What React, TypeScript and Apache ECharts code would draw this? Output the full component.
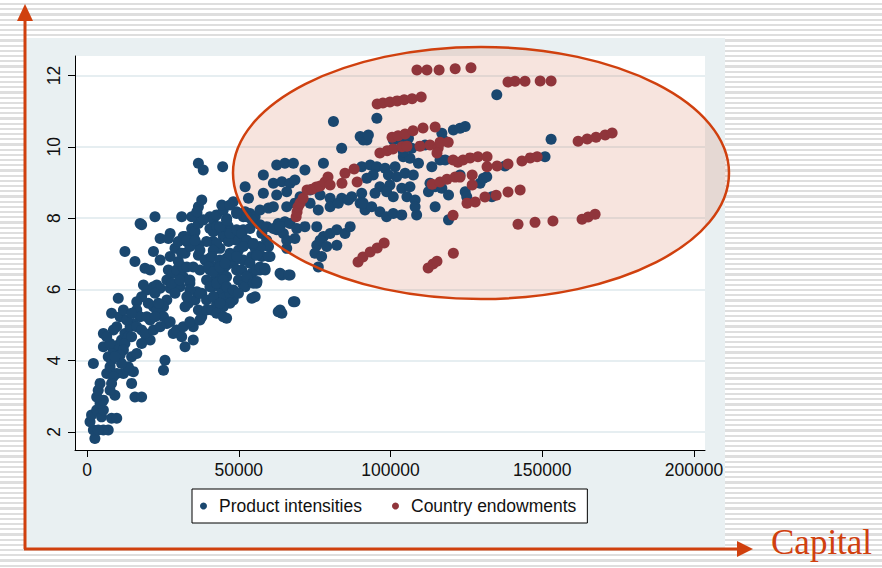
import React, { useEffect, useRef } from 'react';
import * as echarts from 'echarts';

const xTickValues = [0, 50000, 100000, 150000, 200000];
const yTickValues = [2, 4, 6, 8, 10, 12];
const legendLabels = ['Product intensities', 'Country endowments'];
const axisTitle = 'Capital';

const productIntensities: number[][] = [
  [2600,1.81],[2100,2.05],[1000,2.28],[1500,2.47],[3200,2.61],[4800,2.42],[5400,2.61],[4300,2.80],[5400,2.89],[3200,2.98],
  [3700,3.17],[4300,3.36],[6500,3.64],[7600,3.83],[8100,4.01],[7000,4.11],[8700,4.30],[10300,4.44],[11400,4.58],[12500,4.76],
  [13600,4.67],[9800,4.95],[8700,4.86],[8100,5.33],[5400,4.39],[5400,4.76],[2100,3.92],[10300,5.75],[12500,7.06],[15800,6.78],
  [17500,7.85],[18000,7.81],[22400,8.04],[21900,7.06],[24100,6.82],[24100,7.43],[27400,7.57],[26800,7.43],[19100,6.59],[20800,6.54],
  [19700,5.98],[21900,6.07],[23000,6.12],[24100,6.03],[26800,6.54],[28400,6.45],[29500,6.54],[31700,6.35],[30600,6.07],[27400,6.03],
  [29000,5.89],[26300,5.70],[25200,5.51],[21900,5.51],[23000,5.42],[20200,5.61],[18000,5.79],[16400,5.65],[16400,5.42],[17500,5.23],
  [15300,5.04],[14200,4.95],[16400,4.95],[18000,4.86],[19700,4.67],[20800,4.58],[18000,4.48],[19100,4.76],[21900,4.86],[24100,4.95],
  [25200,5.23],[26300,5.04],[27400,5.09],[28400,4.76],[29500,4.86],[31200,4.67],[32300,4.39],[35000,4.58],[31700,4.95],[35000,4.95],
  [33900,5.09],[33400,5.61],[35600,5.70],[36200,5.93],[37800,5.89],[36700,5.42],[37200,5.14],[37800,5.23],[39400,5.42],[41100,5.42],
  [42700,5.61],[43300,5.79],[41600,6.07],[42200,6.26],[43800,6.35],[44400,5.98],[44900,5.75],[46000,5.19],[48200,5.70],[47100,5.89],
  [44900,6.54],[46000,6.68],[48200,6.73],[49300,6.54],[49900,6.26],[51500,6.12],[51000,6.54],[47700,6.92],[46000,6.87],[47100,7.01],
  [43800,7.15],[41600,7.34],[39400,7.34],[40500,6.87],[40500,6.54],[39400,6.26],[37200,6.54],[36700,6.96],[36700,7.24],[35000,7.48],
  [34500,7.71],[31200,8.04],[36200,8.13],[36700,8.32],[37800,8.51],[40500,8.04],[41600,7.95],[42700,8.09],[44900,8.23],[44400,8.37],
  [46000,7.99],[46600,7.76],[47100,7.62],[48800,7.53],[49300,7.38],[51500,7.67],[52100,7.38],[53700,7.29],[54300,6.92],[55400,7.15],
  [57000,7.20],[57600,6.92],[55900,6.54],[54300,6.45],[57000,6.54],[58700,6.54],[55900,6.17],[54300,5.75],[52100,6.07],[60300,6.92],
  [63600,5.42],[64200,5.33],[66900,6.40],[64200,6.40],[68000,5.65],[48200,8.46],[49300,8.18],[53700,8.13],[55400,8.04],[25200,3.73],
  [25700,4.01],[15800,2.98],[18000,2.98],[14700,3.36],[15300,3.69],[14200,3.73],[12000,3.64],[9800,3.64],[8700,3.55],[9200,3.03],
  [7600,3.17],[8100,3.36],[8100,2.38],[9800,2.38],[7000,2.05],[5400,2.05],[3700,2.05],
  [10900,5.23],[12000,5.42],[13100,5.14],[14700,5.33],[12500,4.48],[12000,4.30],[10900,4.15],[14700,4.11],[16400,4.20],[13600,3.83],
  [11400,3.92],[9200,4.11],[7600,4.48],[6500,4.67],[14700,4.67],[20800,5.14],[19700,5.23],[22400,5.23],[23500,5.61],[18600,6.12],
  [22400,5.89],[26300,6.26],[27900,6.17],[30600,6.26],[33900,6.17],[31700,6.63],[30100,6.78],[27400,6.92],[32300,7.01],[29000,7.15],
  [30100,7.34],[32900,7.34],[31700,7.48],[35600,7.62],[36700,7.85],[34500,8.04],[38300,7.95],[40500,7.71],[41600,7.62],[42700,7.76],
  [44400,7.62],[44900,7.48],[46600,7.34],[49900,7.10],[49900,6.87],[51500,6.82],[53700,6.73],[43800,6.78],[42200,6.63],[44400,6.17],
  [46000,6.35],[47100,5.61],[44900,5.51],[42700,5.33],[44900,5.23],
  [36700,9.54],[38300,9.35],[44700,9.44],[36200,8.18],[43800,7.76],[46000,7.94],[51500,8.04],[52100,8.18],[54300,7.95],[47100,7.57],
  [49300,7.67],[51000,7.57],[53700,7.71],[57000,7.81],[57600,7.57],[59200,7.38],[59800,7.20],[57000,7.15],[55900,6.96],[52600,7.38],
  [51500,7.20],[54800,7.29],[32300,7.48],[33900,7.20],[32900,7.38],[31200,7.01],[35600,7.38],[37200,7.10],[42700,7.29],[41600,7.10],
  [38900,6.82],[41100,6.92],[43800,6.82],[47100,6.96],[49300,6.92],[32900,6.63],[35000,6.63],[33900,6.26],[40000,6.63],[41600,6.49],
  [43800,6.63],[45500,6.73],[40500,6.07],[42700,6.17],[44900,6.26],[46000,6.07],[48200,5.98],[49900,5.89],[37200,5.89],[39400,5.70],
  [41600,5.79],[43800,5.61],[33900,5.98],[32900,5.79],[32300,5.51],[52600,6.35],[55900,6.54],[57000,6.63],[58600,6.59],[59800,6.92],
  [54800,6.17],[56000,6.22],[55400,5.79],[68500,5.65],[63000,5.37],
  [62500,9.49],[65200,9.54],[68000,9.54],[58100,9.21],[61400,8.98],[64200,9.02],[66900,8.98],[68500,9.07],[52100,8.88],[53200,8.56],
  [58100,8.70],[62500,8.65],[65800,8.74],[57000,8.23],[59800,8.28],[61400,8.32],[65800,8.32],[68500,8.42],[59200,7.76],[63000,7.85],
  [65200,7.90],[62500,7.67],[64700,7.57],[68500,7.43],[65800,7.15],
  [81200,10.71],[83900,9.96],[91000,10.19],[77900,9.54],[71800,9.35],[70200,8.60],[73500,8.79],[76800,8.65],[80100,8.56],[83900,8.56],
  [87200,8.60],[90500,8.70],[73500,8.42],[76200,8.23],[80100,8.32],[82800,8.42],[86100,8.51],[90000,8.42],[91600,8.23],[49300,8.13],
  [52600,8.04],[47100,8.37],[61400,7.71],[63600,7.76],[66900,7.85],[69100,7.71],[71800,7.76],[75700,7.76],[77900,7.48],[80100,7.57],
  [82300,7.67],[85000,7.57],[86700,7.76],[65800,7.38],[75700,7.24],[76800,7.38],[79000,7.20],[82300,7.24],[75100,7.01],[77300,6.92],
  [76200,6.63],[63600,6.45],[66400,6.40],
  [95500,10.80],[135000,11.46],[90000,10.29],[92200,10.19],[92700,10.33],[120700,10.47],[122900,10.52],[124600,10.57],[116900,10.38],[100900,10.19],
  [103700,10.10],[105900,10.24],[107000,9.96],[111400,10.05],[90500,9.44],[93300,9.49],[95500,9.44],[98200,9.40],[94300,9.21],[92200,9.12],
  [101500,9.44],[104200,9.72],[106400,9.68],[109200,9.54],[99300,9.21],[102000,9.16],[104800,9.26],[107500,9.21],[96500,8.88],[99800,8.93],
  [103700,8.84],[106400,8.88],[94900,8.70],[98700,8.74],[100900,8.60],[105400,8.60],[108100,8.51],[91000,8.42],[93800,8.32],[96500,8.18],
  [98700,8.04],[100900,8.13],[103700,8.09],[108600,8.09],[113600,9.44],[116300,9.63],[118000,9.63],[113000,8.98],[112500,8.74],[114700,8.88],
  [116900,8.84],[119100,8.65],[114700,8.32],[122900,9.21],[129500,8.98],[130600,9.12],[131700,9.16],[124600,8.74],[125100,8.60],[119100,7.95],
  [133400,8.60],[108100,8.32],[152900,10.21],[150900,9.72],[137700,9.46],[104200,9.86],[117400,10.19]
];

const countryEndowments: number[][] = [
  [108700,12.16],[112000,12.16],[116000,12.16],[121300,12.19],[126500,12.22],
  [138700,11.82],[141000,11.84],[144300,11.84],[149300,11.85],[152900,11.85],
  [95600,11.20],[97500,11.23],[99800,11.26],[102200,11.29],[104500,11.32],[107100,11.35],[110100,11.40],
  [100500,10.27],[102500,10.31],[104800,10.36],[107400,10.45],[110700,10.53],[114700,10.56],
  [96500,9.83],[98900,9.89],[100800,9.94],[103800,10.00],[105400,10.02],[109700,10.02],[113000,10.05],[115700,9.97],[116300,10.13],[119000,10.13],[115300,9.83],
  [120600,9.63],[122200,9.57],[123900,9.63],[126200,9.69],[128800,9.72],[131800,9.72],[131800,9.44],[135100,9.46],[138700,9.52],[143300,9.60],[146000,9.69],[148300,9.72],
  [113700,8.95],[116300,9.01],[118600,9.09],[121300,9.15],[122900,9.15],[126900,9.21],[126900,8.93],
  [125200,8.42],[127900,8.45],[131100,8.59],[134800,8.64],[138700,8.73],[142700,8.79],
  [120600,8.08],[120700,7.01],
  [142000,7.83],[147600,7.88],[153500,7.92],[163100,7.97],[165100,8.03],[167400,8.11],
  [161800,10.16],[164800,10.22],[167700,10.27],[170700,10.33],[173000,10.39],
  [68900,8.04],[69200,8.17],[69500,8.31],[70200,8.42],[71200,8.56],[72500,8.79],[74100,8.81],[75500,8.87],[76800,8.90],[78400,9.01],
  [79400,9.15],[80100,8.93],[84000,8.98],[85000,9.26],[88000,9.38],[89000,9.01],
  [89300,6.77],[90900,6.91],[93300,7.05],[95600,7.16],[97900,7.30],[112400,6.60],[114000,6.71],[115300,6.79]
];

const FONT = '"Liberation Sans", Arial, Helvetica, sans-serif';
const ORANGE = '#d0400e';
const BLUE = '#1a476f';
const RED = '#90353b';

export default function App() {
  const ref = useRef<HTMLDivElement>(null);
  useEffect(() => {
    if (!ref.current) return;
    const chart = echarts.init(ref.current, null, { renderer: 'svg' });
    chart.setOption({
      animation: false,
      textStyle: { fontFamily: FONT },
      grid: { left: 75, top: 56, width: 630, height: 394, containLabel: false, outerBoundsMode: 'none' },
      xAxis: {
        type: 'value',
        min: -3950,
        max: 203600,
        splitLine: { show: false },
        axisLine: { show: true, onZero: false, lineStyle: { color: '#000', width: 1 } },
        axisTick: { show: true, length: 7, customValues: xTickValues, lineStyle: { color: '#000' } },
        axisLabel: {
          customValues: xTickValues,
          formatter: (v: number) => String(v),
          fontSize: 17.5,
          color: '#111',
          margin: 11,
          fontFamily: FONT
        }
      },
      yAxis: {
        type: 'value',
        min: 1.49,
        max: 12.55,
        axisLine: { show: true, onZero: false, lineStyle: { color: '#000', width: 1 } },
        axisTick: { show: true, length: 7, customValues: yTickValues, lineStyle: { color: '#000' } },
        axisLabel: { customValues: yTickValues, rotate: 90, fontSize: 17.5, color: '#111', margin: 12, fontFamily: FONT },
        splitLine: { show: true, lineStyle: { color: '#e6eef1', width: 2 } }
      },
      legend: {
        left: 192,
        top: 489,
        orient: 'horizontal',
        padding: [8, 11, 8, 8],
        itemWidth: 7,
        itemHeight: 7,
        itemGap: 30,
        icon: 'circle',
        backgroundColor: '#fff',
        borderColor: '#000',
        borderWidth: 1,
        borderRadius: 0,
        textStyle: { fontSize: 17.5, color: '#111', fontFamily: FONT, padding: [0, 0, 0, 7] },
        data: legendLabels
      },
      graphic: [
        { type: 'rect', z: -10, silent: true, shape: { x: 26, y: 38, width: 699, height: 510 }, style: { fill: '#e9f0f2' } },
        { type: 'rect', z: -9, silent: true, shape: { x: 75, y: 56, width: 630, height: 394 }, style: { fill: '#ffffff' } },
        { type: 'ellipse', z: 1, silent: true, shape: { cx: 481, cy: 173, rx: 248, ry: 126 }, style: { fill: 'rgba(214,110,80,0.19)' } },
        { type: 'ellipse', z: 10, silent: true, shape: { cx: 481, cy: 173, rx: 248, ry: 126 }, style: { fill: 'none', stroke: ORANGE, lineWidth: 2.5 } },
        { type: 'line', z: 10, silent: true, shape: { x1: 25, y1: 549, x2: 25, y2: 18 }, style: { stroke: ORANGE, lineWidth: 3 } },
        { type: 'polygon', z: 10, silent: true, shape: { points: [[17, 21], [33, 21], [25, 4]] }, style: { fill: ORANGE } },
        { type: 'line', z: 10, silent: true, shape: { x1: 24, y1: 549, x2: 740, y2: 549 }, style: { stroke: ORANGE, lineWidth: 3 } },
        { type: 'polygon', z: 10, silent: true, shape: { points: [[737, 541], [737, 557], [753, 549]] }, style: { fill: ORANGE } },
        { type: 'text', z: 10, silent: true, x: 771, y: 560, style: { text: axisTitle, fill: ORANGE, font: '35px "Liberation Serif", "DejaVu Serif", serif', textVerticalAlign: 'bottom', textBaseline: 'alphabetic' } }
      ],
      series: [
        {
          name: legendLabels[0],
          type: 'scatter',
          symbol: 'circle',
          symbolSize: 11,
          itemStyle: { color: BLUE, opacity: 1 },
          data: productIntensities
        },
        {
          name: legendLabels[1],
          type: 'scatter',
          symbol: 'circle',
          symbolSize: 11,
          itemStyle: { color: RED, opacity: 1 },
          data: countryEndowments
        }
      ]
    });
    return () => chart.dispose();
  }, []);
  return (
    <div
      style={{
        position: 'fixed',
        left: 0,
        top: 0,
        width: 882,
        height: 568,
        background: 'repeating-linear-gradient(to bottom, #ffffff 0px, #ffffff 3px, #dedede 3px, #dedede 5.2px)'
      }}
    >
      <div ref={ref} style={{ width: 882, height: 568 }} />
    </div>
  );
}
